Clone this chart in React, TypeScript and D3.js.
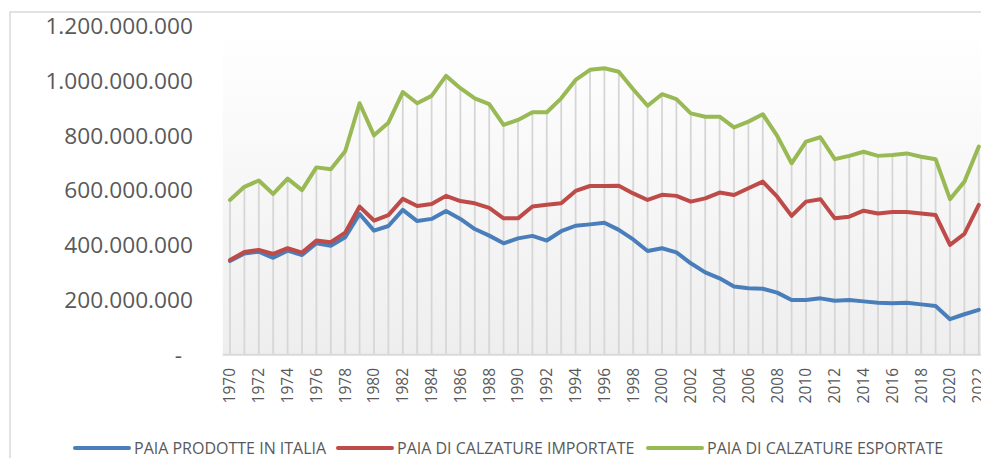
import React from "react";
import * as d3 from "d3";

const years: number[] = [
  1970, 1971, 1972, 1973, 1974, 1975, 1976, 1977, 1978, 1979,
  1980, 1981, 1982, 1983, 1984, 1985, 1986, 1987, 1988, 1989,
  1990, 1991, 1992, 1993, 1994, 1995, 1996, 1997, 1998, 1999,
  2000, 2001, 2002, 2003, 2004, 2005, 2006, 2007, 2008, 2009,
  2010, 2011, 2012, 2013, 2014, 2015, 2016, 2017, 2018, 2019,
  2020, 2021, 2022,
];

// millions of pairs
const prodotte: number[] = [
  342, 370, 376, 354, 380, 364, 407, 398, 429, 514,
  453, 470, 529, 488, 496, 525, 496, 459, 435, 407,
  425, 434, 417, 451, 471, 476, 482, 456, 421, 379,
  389, 374, 334, 301, 279, 249, 243, 241, 227, 200,
  200, 206, 197, 200, 195, 190, 188, 190, 184, 178,
  130, 148, 164,
];

const importate: number[] = [
  346, 375, 383, 368, 389, 373, 417, 411, 446, 541,
  490, 510, 569, 543, 550, 580, 561, 553, 536, 498,
  498, 541, 548, 553, 598, 616, 616, 617, 589, 565,
  584, 580, 559, 571, 592, 583, 608, 632, 577, 507,
  559, 568, 498, 504, 526, 516, 521, 521, 516, 510,
  401, 441, 547,
];

const esportate: number[] = [
  565, 613, 636, 587, 643, 601, 684, 677, 743, 918,
  801, 847, 959, 918, 945, 1018, 973, 936, 915, 839,
  857, 885, 885, 936, 1003, 1040, 1046, 1033, 969, 909,
  951, 933, 881, 869, 869, 830, 851, 878, 799, 699,
  778, 794, 714, 726, 741, 726, 729, 735, 723, 714,
  568, 632, 760,
];

const seriesNames: string[] = [
  "PAIA PRODOTTE IN ITALIA",
  "PAIA DI CALZATURE IMPORTATE",
  "PAIA DI CALZATURE ESPORTATE",
];
const seriesColors: string[] = ["#4a7ebb", "#be4b48", "#98b954"];
const yTicks: number[] = [0, 200e6, 400e6, 600e6, 800e6, 1000e6, 1200e6];
const xTickYears: number[] = years.filter((y) => y % 2 === 0);

const W = 981;
const H = 458;
const plotLeft = 222.8;
const plotTop = 26;
const plotBottom = 354.8;
const band = 14.4;
const FONT = "'Open Sans', 'Liberation Sans', sans-serif";
const TEXT = "#595959";

const itLocale = d3.formatLocale({
  decimal: ",",
  thousands: ".",
  grouping: [3],
  currency: ["", " €"],
});
const fmt = itLocale.format(",.0f");

export default function App() {
  const x = d3
    .scaleBand<number>()
    .domain(years)
    .range([plotLeft, plotLeft + band * years.length])
    .paddingInner(0)
    .paddingOuter(0);
  const cx = (yr: number) => (x(yr) as number) + x.bandwidth() / 2;
  const y = d3.scaleLinear().domain([0, 1200e6]).range([plotBottom, plotTop]);

  const all = [prodotte, importate, esportate];
  const line = d3
    .line<number>()
    .x((_, i) => cx(years[i]))
    .y((v) => y(v * 1e6));

  const legendX = [75, 338, 648];

  return (
    <svg
      width={W}
      height={H}
      style={{ position: "absolute", left: 0, top: 0, background: "#fff" }}
      fontFamily={FONT}
    >
      <defs>
        <linearGradient id="bg" x1="0" y1="0" x2="0" y2="1">
          <stop offset="0%" stopColor="#ffffff" />
          <stop offset="100%" stopColor="#eeeeee" />
        </linearGradient>
      </defs>
      <rect x={10} y={12} width={W + 20} height={H + 20} fill="#fff" stroke="#d9d9d9" strokeWidth={1.5} />
      <rect
        x={plotLeft}
        y={plotTop}
        width={band * years.length}
        height={plotBottom - plotTop}
        fill="url(#bg)"
      />
      {/* drop lines */}
      {years.map((yr, i) => (
        <line
          key={"d" + yr}
          x1={cx(yr)}
          x2={cx(yr)}
          y1={y(esportate[i] * 1e6)}
          y2={plotBottom}
          stroke="#d6d6d6"
          strokeWidth={1.8}
        />
      ))}
      {/* axis */}
      <line x1={plotLeft} x2={W + 10} y1={plotBottom} y2={plotBottom} stroke="#d9d9d9" strokeWidth={2} />
      {/* y labels */}
      {yTicks.map((t) => (
        <text
          key={"y" + t}
          x={t === 0 ? 182 : 193}
          y={y(t)}
          dy="0.35em"
          textAnchor="end"
          fontSize={22.7}
          fill={TEXT}
        >
          {t === 0 ? "-" : fmt(t)}
        </text>
      ))}
      {/* x labels */}
      {xTickYears.map((yr) => (
        <text
          key={"x" + yr}
          transform={`translate(${cx(yr)},${368}) rotate(-90)`}
          dy="0.35em"
          textAnchor="end"
          fontSize={15.5}
          fill={TEXT}
        >
          {yr}
        </text>
      ))}
      {/* series */}
      {all.map((s, k) => (
        <path
          key={"s" + k}
          d={line(s) || ""}
          fill="none"
          stroke={seriesColors[k]}
          strokeWidth={4}
          strokeLinejoin="round"
          strokeLinecap="round"
        />
      ))}
      {/* legend */}
      {seriesNames.map((n, k) => (
        <g key={"l" + k}>
          <line
            x1={legendX[k]}
            x2={legendX[k] + 54}
            y1={448}
            y2={448}
            stroke={seriesColors[k]}
            strokeWidth={4}
            strokeLinecap="round"
          />
          <text x={legendX[k] + 59} y={448} dy="0.35em" fontSize={16} fill={TEXT}>
            {n}
          </text>
        </g>
      ))}
    </svg>
  );
}
